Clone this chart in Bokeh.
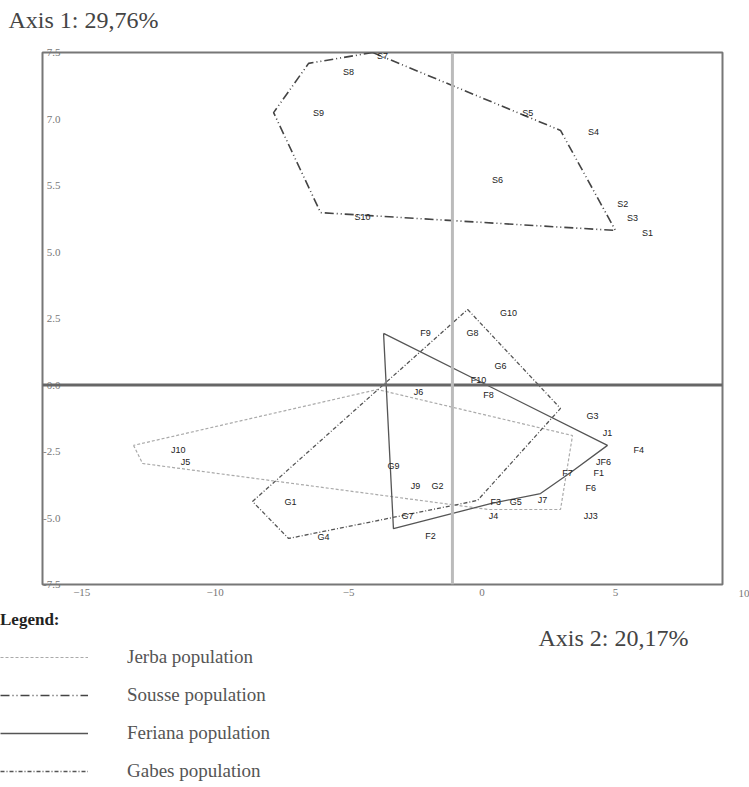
from bokeh.plotting import figure
from bokeh.layouts import column
from bokeh.models import Range1d, FixedTicker, Span, Label, Legend, LegendItem, ColumnDataSource
from bokeh.core.properties import value
from bokeh.embed import file_html
from bokeh.resources import INLINE

# ---------------- data ----------------
sousse_names = ["S1", "S2", "S3", "S4", "S5", "S6", "S7", "S8", "S9", "S10"]
sousse_x = [6.20, 5.27, 5.64, 4.18, 1.71, 0.58, -3.73, -5.00, -6.13, -4.48]
sousse_y = [5.70, 6.82, 6.26, 9.53, 10.24, 7.69, 12.35, 11.75, 10.24, 6.30]
sousse_hull_x = [-4.10, -6.50, -7.81, -6.05, 5.00, 2.94, -4.10]
sousse_hull_y = [12.50, 12.09, 10.24, 6.48, 5.81, 9.57, 12.50]

gabes_names = ["G1", "G2", "G3", "G4", "G5", "G6", "G7", "G8", "G9", "G10"]
gabes_x = [-7.18, -1.67, 4.14, -5.94, 1.26, 0.69, -2.79, -0.36, -3.32, 0.99]
gabes_y = [-4.38, -3.78, -1.15, -5.73, -4.38, 0.73, -4.91, 1.97, -3.03, 2.69]
gabes_hull_x = [-0.54, 2.94, -0.17, -7.25, -8.60, -0.54]
gabes_hull_y = [2.84, -0.88, -4.34, -5.77, -4.38, 2.84]

feriana_names = ["F1", "F2", "F3", "F4", "F6", "F7", "F8", "F9", "F10"]
feriana_x = [4.37, -1.93, 0.51, 5.87, 4.07, 3.20, 0.24, -2.12, -0.13]
feriana_y = [-3.29, -5.66, -4.38, -2.44, -3.89, -3.29, -0.36, 1.97, 0.17]
feriana_hull_x = [-3.69, 4.70, 3.32, 2.19, 0.32, -3.32, -3.69]
feriana_hull_y = [1.94, -2.27, -3.29, -4.08, -4.46, -5.40, 1.94]

jerba_names = ["J1", "JF6", "JJ3", "J4", "J5", "J6", "J7", "J9", "J10"]
jerba_x = [4.70, 4.55, 4.07, 0.43, -11.11, -2.38, 2.27, -2.49, -11.38]
jerba_y = [-1.82, -2.88, -4.91, -4.91, -2.91, -0.28, -4.34, -3.78, -2.46]
jerba_hull_x = [-13.06, -12.72, 0.24, 2.94, 3.39, -3.92, -13.06]
jerba_hull_y = [-2.27, -2.95, -4.68, -4.68, -1.90, -0.17, -2.27]

x_ticks = [-15, -10, -5, 0, 5]
y_ticks = [-7.5, -5.0, -2.5, 0.0, 2.5, 5.0, 7.5, 10.0, 12.5]
y_tick_labels = ["-7.5", "-5.0", "-2.5", "0.0", "2.5", "5.0", "5.5", "7.0", "7.5"]
x_axis_zero = -1.11
axis1_title = "Axis 1: 29,76%"
axis2_title = "Axis 2: 20,17%"
legend_title = "Legend:"
legend_labels = ["Jerba population", "Sousse population", "Feriana population", "Gabes population"]

styles = {
    "jerba": dict(line_color="#aaaaaa", line_width=1.2, line_dash="3 2"),
    "sousse": dict(line_color="#444444", line_width=1.6, line_dash="9 3 1 3 1 3"),
    "feriana": dict(line_color="#555555", line_width=1.3, line_dash="solid"),
    "gabes": dict(line_color="#555555", line_width=1.3, line_dash="4 2 1 2"),
}
hulls = {
    "jerba": (jerba_hull_x, jerba_hull_y),
    "sousse": (sousse_hull_x, sousse_hull_y),
    "feriana": (feriana_hull_x, feriana_hull_y),
    "gabes": (gabes_hull_x, gabes_hull_y),
}

SANS = value("Liberation Sans")
SERIF = "Liberation Serif"


def no_align(fig):
    if "frame_align" in fig.properties():
        fig.frame_align = False


# ---------------- main scatter ----------------
p = figure(width=749, height=610, output_backend="svg", toolbar_location=None,
           x_range=Range1d(-16.47, 9.01), y_range=Range1d(-7.5, 12.5),
           min_border_left=42, min_border_right=27, min_border_top=52, min_border_bottom=26)
no_align(p)
p.grid.visible = False
p.outline_line_color = "#777777"
p.outline_line_width = 2
p.background_fill_color = "white"
p.border_fill_color = "white"
p.title.visible = False

xa = p.xaxis[0]
xa.ticker = FixedTicker(ticks=x_ticks)
xa.axis_line_color = None
xa.major_tick_line_color = None
xa.minor_tick_line_color = None
xa.major_tick_out = 0
xa.major_label_standoff = 4
xa.major_label_text_font = SERIF
xa.major_label_text_font_size = "11px"
xa.major_label_text_color = "#777777"

ya = p.yaxis[0]
ya.ticker = FixedTicker(ticks=y_ticks)
ya.major_label_overrides = {t: l for t, l in zip(y_ticks, y_tick_labels)}
ya.axis_line_color = None
ya.major_tick_line_color = None
ya.minor_tick_line_color = None
ya.major_tick_out = 0
ya.major_label_standoff = -18
ya.major_label_text_font = SERIF
ya.major_label_text_font_size = "11px"
ya.major_label_text_color = "#777777"

p.add_layout(Span(location=0, dimension="width", line_color="#666666", line_width=3))
p.add_layout(Span(location=x_axis_zero, dimension="height", line_color="#bbbbbb", line_width=3))

for key in ["jerba", "sousse", "feriana", "gabes"]:
    hx, hy = hulls[key]
    p.line(hx, hy, **styles[key])

for names, xs, ys in [(sousse_names, sousse_x, sousse_y), (gabes_names, gabes_x, gabes_y),
                      (feriana_names, feriana_x, feriana_y), (jerba_names, jerba_x, jerba_y)]:
    src = ColumnDataSource(dict(x=xs, y=ys, t=names))
    p.text(x="x", y="y", text="t", source=src, text_font=SANS, text_font_size="9px",
           text_color="#222222", text_align="center", text_baseline="middle")

p.add_layout(Label(x=-34, y=33, x_units="screen", y_units="screen", text=axis1_title,
                   text_font=SERIF, text_font_size="24px", text_color="#444444",
                   text_baseline="alphabetic"), "above")
p.add_layout(Label(x=16, y=-9, x_units="screen", y_units="screen", text="10",
                   text_font=SERIF, text_font_size="11px", text_color="#777777",
                   text_baseline="middle"), "right")

# ---------------- legend strip ----------------
# the hull lines are re-used only as legend glyphs; the ranges keep them off-view
p2 = figure(width=749, height=177, output_backend="svg", toolbar_location=None,
            x_range=Range1d(1000, 1749), y_range=Range1d(1000, 1177),
            min_border=0, min_border_left=0, min_border_right=0,
            min_border_top=0, min_border_bottom=0,
            x_axis_location=None, y_axis_location=None)
no_align(p2)
p2.grid.visible = False
p2.outline_line_color = None
p2.background_fill_color = "white"
p2.border_fill_color = "white"

items = []
for key, lab in zip(["jerba", "sousse", "feriana", "gabes"], legend_labels):
    hx, hy = hulls[key]
    r = p2.line(hx, hy, **styles[key])
    items.append(LegendItem(label=lab, renderers=[r]))

legend = Legend(items=items, location=(0, 5), title=legend_title,
                glyph_width=88, glyph_height=16, label_height=16, label_standoff=39,
                spacing=16, padding=0, margin=0, border_line_alpha=0, background_fill_alpha=0,
                label_text_font=SERIF, label_text_font_size="19px", label_text_color="#555555",
                title_text_font=SERIF, title_text_font_size="17px", title_text_font_style="bold",
                title_text_color="#222222", title_standoff=16)
p2.add_layout(legend, "center")

p2.add_layout(Label(x=538, y=150, x_units="screen", y_units="screen", text=axis2_title,
                    text_font=SERIF, text_font_size="24px", text_color="#444444",
                    text_baseline="alphabetic"))

open("out.html", "w").write(file_html(column(p, p2, spacing=0), INLINE))
